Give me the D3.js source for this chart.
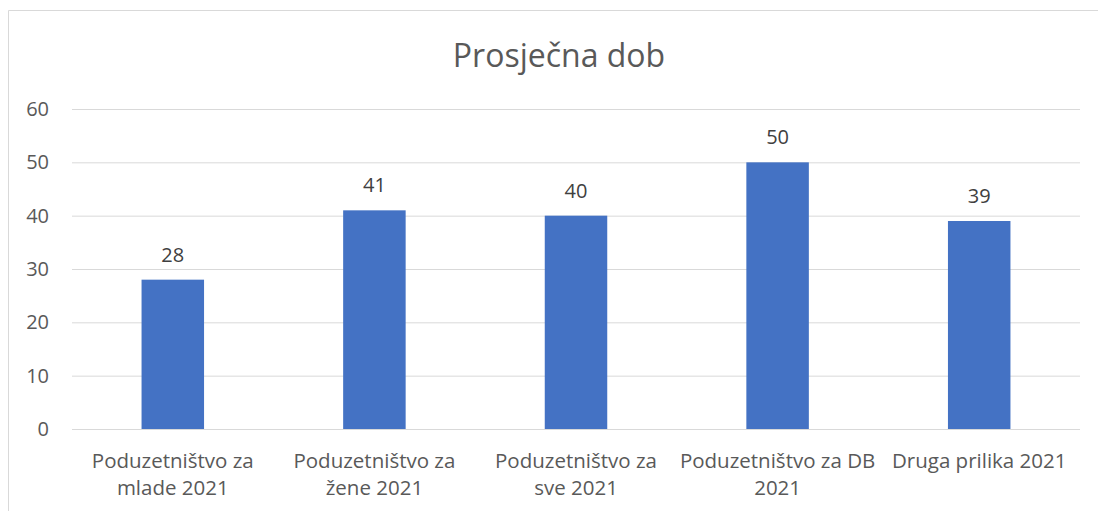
<!DOCTYPE html>
<meta charset="utf-8">
<head>
<style>
body { margin: 0; background: #fff; }
svg text { font-family: "Open Sans", sans-serif; }
.axis path { display: none; }
.axis line { stroke: #d9d9d9; }
</style>
</head>
<body>
<script src="https://d3js.org/d3.v7.min.js"></script>
<script>

// chart data
var categories = ["Poduzetništvo za mlade 2021", "Poduzetništvo za žene 2021", "Poduzetništvo za sve 2021", "Poduzetništvo za DB 2021", "Druga prilika 2021"];
var labelLines = [["Poduzetništvo za", "mlade 2021"], ["Poduzetništvo za", "žene 2021"], ["Poduzetništvo za", "sve 2021"], ["Poduzetništvo za DB", "2021"], ["Druga prilika 2021"]];
var values = [28, 41, 40, 50, 39];
var yTicks = [0, 10, 20, 30, 40, 50, 60];
var title = "Prosječna dob";

var W = 1098, H = 511;
var margin = {top: 109, right: 18, bottom: 82, left: 72},
    width = W - margin.left - margin.right,
    height = H - margin.top - margin.bottom;

var svg = d3.select("body").append("svg")
    .attr("width", W)
    .attr("height", H);

// chart frame
svg.append("path")
    .attr("d", "M8.5," + H + "V10.5H" + W)
    .attr("fill", "none")
    .attr("stroke", "#d9d9d9")
    .attr("stroke-width", 1);

svg.append("text")
    .attr("x", 559)
    .attr("y", 67)
    .attr("text-anchor", "middle")
    .attr("font-size", "32px")
    .attr("fill", "#595959")
    .text(title);

var g = svg.append("g")
    .attr("transform", "translate(" + margin.left + "," + margin.top + ")");

var x = d3.scaleBand().domain(categories).range([0, width]).paddingInner(0.69).paddingOuter(0.345);
var y = d3.scaleLinear().domain([0, 60]).range([height, 0]);

var yAxis = d3.axisLeft(y).tickValues(yTicks).tickSize(-width).tickPadding(23);
g.append("g")
    .attr("class", "axis")
    .call(yAxis)
    .call(function (a) {
      a.selectAll("line").attr("stroke", "#d9d9d9");
      a.selectAll("text").attr("font-size", "20px").attr("fill", "#595959");
    });

g.selectAll(".bar")
    .data(values)
  .enter().append("rect")
    .attr("class", "bar")
    .attr("x", function (d, i) { return x(categories[i]); })
    .attr("y", function (d) { return y(d); })
    .attr("width", x.bandwidth())
    .attr("height", function (d) { return height - y(d); })
    .attr("fill", "#4472C4");

g.selectAll(".val")
    .data(values)
  .enter().append("text")
    .attr("class", "val")
    .attr("x", function (d, i) { return x(categories[i]) + x.bandwidth() / 2; })
    .attr("y", function (d) { return y(d) - 18; })
    .attr("text-anchor", "middle")
    .attr("font-size", "20px")
    .attr("fill", "#404040")
    .text(function (d) { return d; });

// category labels
var cat = g.selectAll(".cat")
    .data(categories)
  .enter().append("text")
    .attr("class", "cat")
    .attr("text-anchor", "middle")
    .attr("font-size", "20.5px")
    .attr("fill", "#595959")
    .attr("transform", function (d) { return "translate(" + (x(d) + x.bandwidth() / 2) + "," + (height + 39) + ")"; });

cat.selectAll("tspan")
    .data(function (d, i) { return labelLines[i]; })
  .enter().append("tspan")
    .attr("x", 0)
    .attr("y", function (d, i) { return i * 27; })
    .text(function (d) { return d; });

</script>
</body>
